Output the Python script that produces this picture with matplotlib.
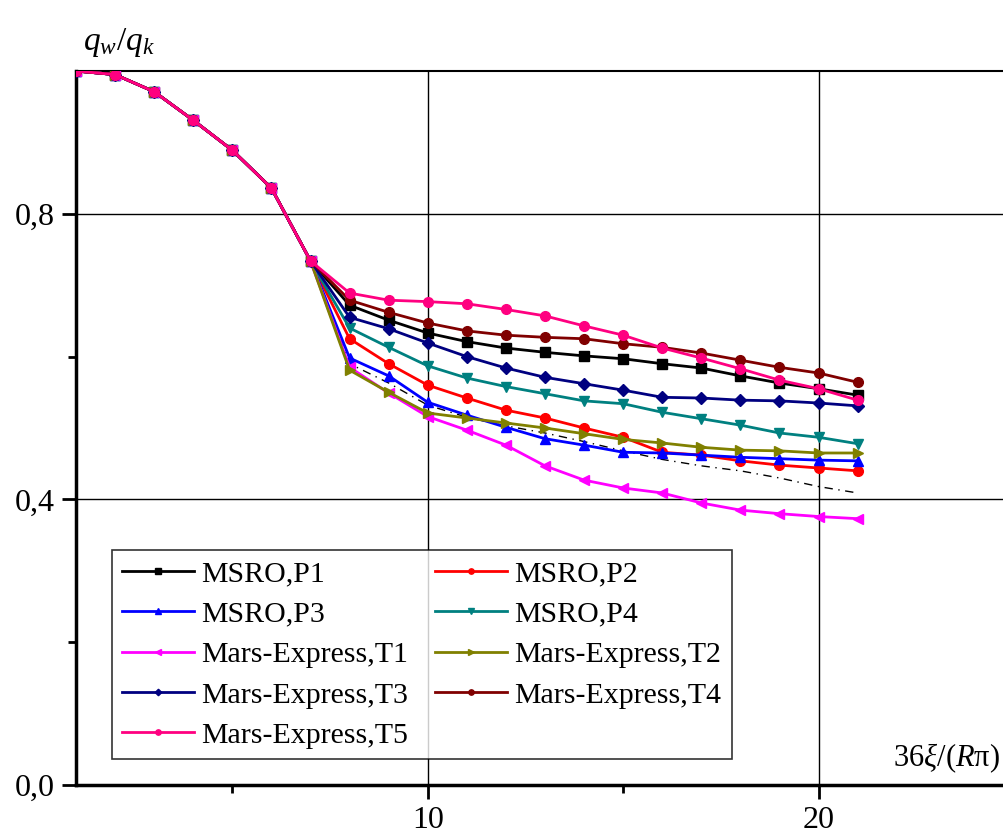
import matplotlib.pyplot as plt
from matplotlib.ticker import FixedLocator, FuncFormatter

plt.rcParams['font.family'] = ['Liberation Serif', 'DejaVu Serif']
plt.rcParams['mathtext.fontset'] = 'custom'
plt.rcParams['mathtext.rm'] = 'Liberation Serif'
plt.rcParams['mathtext.it'] = 'Liberation Serif:italic'

# координата по осі x (однакова для всіх кривих)
x = list(range(1, 22))

# спільний початок кривих (x = 1..7)
head = [1.0, 0.995, 0.971, 0.931, 0.889, 0.836, 0.734]

# хвости кривих (x = 8..21)
p1 = [0.672, 0.651, 0.633, 0.621, 0.612, 0.606, 0.601, 0.597, 0.590, 0.584, 0.573, 0.563, 0.555, 0.546]
p2 = [0.625, 0.590, 0.560, 0.542, 0.525, 0.514, 0.500, 0.487, 0.466, 0.462, 0.454, 0.448, 0.444, 0.440]
p3 = [0.598, 0.573, 0.536, 0.518, 0.501, 0.485, 0.476, 0.466, 0.465, 0.462, 0.459, 0.457, 0.455, 0.454]
p4 = [0.640, 0.613, 0.587, 0.570, 0.558, 0.548, 0.538, 0.534, 0.522, 0.513, 0.504, 0.493, 0.487, 0.478]
t1 = [0.585, 0.549, 0.516, 0.497, 0.476, 0.447, 0.427, 0.416, 0.409, 0.395, 0.385, 0.380, 0.376, 0.373]
t2 = [0.581, 0.550, 0.521, 0.514, 0.507, 0.500, 0.492, 0.484, 0.479, 0.473, 0.469, 0.468, 0.465, 0.465]
t3 = [0.655, 0.639, 0.619, 0.600, 0.584, 0.571, 0.562, 0.553, 0.543, 0.542, 0.539, 0.538, 0.535, 0.531]
t4 = [0.679, 0.662, 0.647, 0.636, 0.630, 0.627, 0.625, 0.618, 0.613, 0.605, 0.595, 0.585, 0.577, 0.564]
t5 = [0.689, 0.679, 0.677, 0.674, 0.666, 0.657, 0.643, 0.630, 0.612, 0.598, 0.583, 0.567, 0.555, 0.539]
# тонка штрихова крива без підпису
dashed = [0.59, 0.563, 0.532, 0.515, 0.503, 0.493, 0.481, 0.468, 0.456, 0.447, 0.440, 0.430, 0.418, 0.409]

series = [
    ("MSRO,P1", p1, "black", "s"),
    ("MSRO,P2", p2, "#ff0000", "o"),
    ("MSRO,P3", p3, "#0000ff", "^"),
    ("MSRO,P4", p4, "#008080", "v"),
    ("Mars-Express,T1", t1, "#ff00ff", "<"),
    ("Mars-Express,T2", t2, "#808000", ">"),
    ("Mars-Express,T3", t3, "#000080", "D"),
    ("Mars-Express,T4", t4, "#800000", "o"),
    ("Mars-Express,T5", t5, "#ff0080", "o"),
]

W, H = 1004, 835
fig = plt.figure(figsize=(W / 100, H / 100), dpi=100)
ax = fig.add_axes([76 / W, 1 - 785 / H, 938 / W, 714 / H])

ax.plot(x[6:], [head[-1]] + dashed, color="black", lw=1, ls=(0, (6, 4, 1, 4)), zorder=3)

handles = {}
for label, tail, color, marker in series:
    ms = 7 if marker != "D" else 6
    h, = ax.plot(x, head + tail, color=color, lw=2, marker=marker, ms=ms,
                 label=label, zorder=4)
    handles[label] = h

ax.set_xlim(1, 25)
ax.set_ylim(0, 1.0)

ax.xaxis.set_major_locator(FixedLocator([10, 20]))
ax.xaxis.set_minor_locator(FixedLocator([5, 15]))
ax.yaxis.set_major_locator(FixedLocator([0.0, 0.4, 0.8]))
ax.yaxis.set_minor_locator(FixedLocator([0.2, 0.6]))
ax.yaxis.set_major_formatter(FuncFormatter(lambda v, p: f"{v:.1f}".replace(".", ",")))

ax.tick_params(which="major", direction="out", length=10, width=2, labelsize=23, pad=5)
ax.tick_params(which="minor", direction="out", length=6, width=2)
ax.grid(True, which="major", color="black", lw=1)
ax.set_axisbelow(True)

for side in ("left", "bottom"):
    ax.spines[side].set_linewidth(2.5)
ax.spines["top"].set_linewidth(1.5)
ax.spines["right"].set_visible(False)

order = ["MSRO,P1", "MSRO,P3", "Mars-Express,T1", "Mars-Express,T3", "Mars-Express,T5",
         "MSRO,P2", "MSRO,P4", "Mars-Express,T2", "Mars-Express,T4"]
leg = ax.legend([handles[k] for k in order], order, ncol=2, loc="lower left",
                bbox_to_anchor=(0.038, 0.036), fontsize=21.5, frameon=True, fancybox=False,
                edgecolor="black", handlelength=2.4, markerscale=0.55,
                labelspacing=0.45, columnspacing=0.9, handletextpad=0.25,
                borderpad=0.35, borderaxespad=0)
leg.get_frame().set_linewidth(1.2)
leg.set_zorder(6)

fig.text(83 / W, 1 - 50 / H, r"$q_w/q_k$", fontsize=24, ha="left", va="baseline")
fig.text(893 / W, 1 - 766 / H, r"36$\mathit{\xi}$/($\mathit{R}$π)", fontsize=22,
         ha="left", va="baseline")

fig.savefig("out.png", dpi=100)
